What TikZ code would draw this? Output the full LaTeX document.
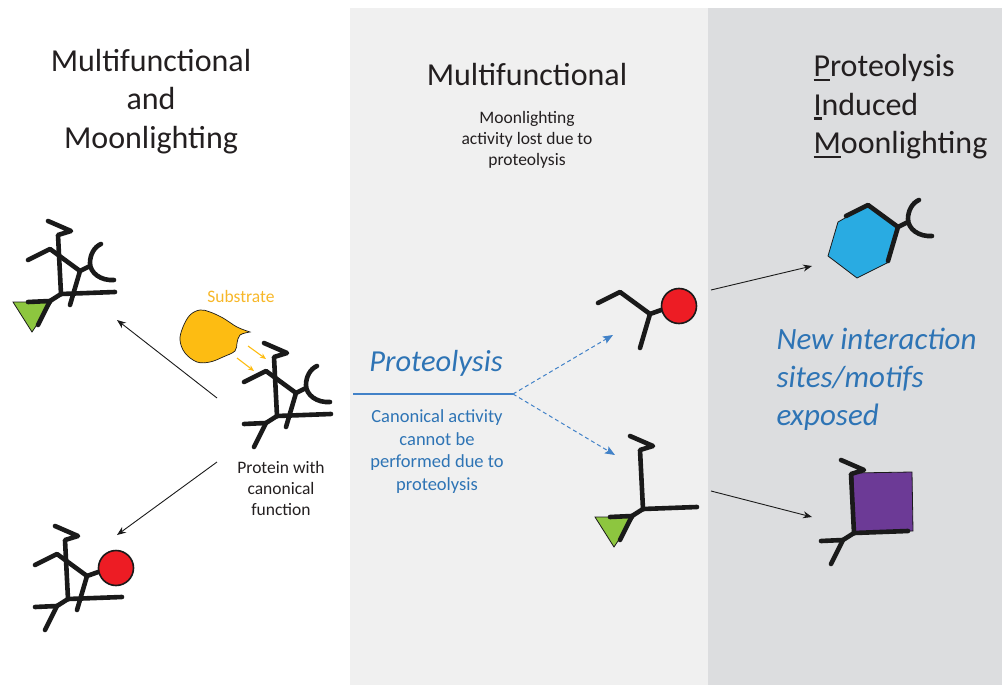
\documentclass[tikz,border=0pt]{standalone}
\usepackage{fontspec}
\setmainfont{Carlito}
\usetikzlibrary{arrows.meta}

\definecolor{midgrey}{RGB}{240,240,240}
\definecolor{rightgrey}{RGB}{220,221,223}
\definecolor{ink}{RGB}{35,31,32}
\definecolor{stick}{RGB}{26,26,26}
\definecolor{cutblue}{RGB}{46,116,181}
\definecolor{lineblue}{RGB}{66,130,200}
\definecolor{substr}{RGB}{253,188,18}
\definecolor{substrtext}{RGB}{247,183,40}
\definecolor{ballred}{RGB}{237,28,36}
\definecolor{wedgegreen}{RGB}{141,198,63}
\definecolor{hexblue}{RGB}{41,171,226}
\definecolor{boxpurple}{RGB}{108,58,150}

% thick bar under the first letter
\newcommand{\ulfirst}[1]{\setbox0\hbox{#1}\rlap{\rule[-4.5pt]{\wd0}{2.6pt}}#1}

\tikzset{
  bone/.style={draw=stick, line width=4.6pt, line cap=round, line join=round},
  thinarrow/.style={draw=stick, line width=0.9pt, -{Stealth[length=9pt,width=7pt,inset=3pt]}},
  cutarrow/.style={draw=lineblue, line width=1pt, dash pattern=on 4pt off 3pt,
    -{Stealth[length=10pt,width=8pt,inset=2pt]}},
  title/.style={text=ink, font=\fontsize{32}{38.5}\selectfont},
  note/.style={text=ink, font=\fontsize{17.5}{21.3}\selectfont, align=center},
  % pieces of the protein, all relative to the lower junction
  pics/hook/.style={code={\draw[bone] (-13,-73) -- (10,-63) -- (-3,-59) -- (0,0);}},
  pics/arm/.style={code={\draw[bone] (-33,-34) -- (-11,-45) -- (19,-23) -- (9,11);}},
  pics/bar/.style={code={\draw[bone] (0,0) -- (54,-2);}},
  pics/cup/.style={code={\draw[bone] (19,-23) -- (29,-28);
      \draw[bone] (40,-50) .. controls (33,-47) and (29,-39) .. (29,-31)
        .. controls (29,-21) and (40,-13) .. (53,-14);}},
  pics/fork/.style={code={\draw[bone] (0,0) -- (-11,7) -- (-23,31);
      \draw[bone] (-33,8) -- (-11,7);}},
  pics/ball/.style={code={\draw[bone] (19,-23) -- (33,-28);
      \filldraw[fill=ballred, draw=stick, line width=1.6pt] (48,-31) circle[radius=17.5pt];}},
  pics/wedge/.style={code={\filldraw[fill=wedgegreen, draw=stick, line width=0.8pt]
      (-48,8) -- (-9,8) -- (-29,38) -- cycle;}},
  pics/hexa/.style={code={\filldraw[fill=hexblue, draw=stick, line width=0.8pt]
      (-11,-45) -- (19,-23) -- (10,12) -- (-22,28) -- (-51,6) -- (-41,-28) -- cycle;}},
  pics/block/.style={code={\filldraw[fill=boxpurple, draw=stick, line width=0.8pt]
      (-1,-60) -- (58,-61) -- (59,-2) -- (0,0) -- cycle;}},
}

\begin{document}
\begin{tikzpicture}[x=1pt,y=-1pt]
\useasboundingbox (0,0) rectangle (1002,685);

% background panels
\fill[midgrey] (350,8) rectangle (708,685);
\fill[rightgrey] (708,8) rectangle (1002,685);

% junctions of the molecules
\coordinate (full) at (277,416);
\coordinate (cupTri) at (61,294);
\coordinate (cupBall) at (68,599);
\coordinate (fragBall) at (631,337);
\coordinate (fragTri) at (643,509);
\coordinate (hexFrag) at (879,250);
\coordinate (boxFrag) at (854,533);

% connector ends
\coordinate (fullUp) at (217,398);
\coordinate (fullDown) at (217,462);
\coordinate (triIn) at (117,320);
\coordinate (ballIn) at (117,535);
\coordinate (cutL) at (353,394);
\coordinate (cutR) at (513,394);
\coordinate (ballIn2) at (613,335);
\coordinate (triIn2) at (615,455);
\coordinate (ballOut) at (711,290);
\coordinate (hexIn) at (812,266);
\coordinate (triOut) at (711,491);
\coordinate (boxIn) at (812,517);
\coordinate (sA) at (248,346);
\coordinate (sA2) at (266,359);
\coordinate (sB) at (237,358);
\coordinate (sB2) at (254,371);

% connectors
\draw[thinarrow] (fullUp) -- (triIn);
\draw[thinarrow] (fullDown) -- (ballIn);
\draw[lineblue, line width=1.5pt] (cutL) -- (cutR);
\draw[cutarrow] (cutR) -- (ballIn2);
\draw[cutarrow] (cutR) -- (triIn2);
\draw[thinarrow] (ballOut) -- (hexIn);
\draw[thinarrow] (triOut) -- (boxIn);

% substrate
\filldraw[fill=substr, draw=stick, line width=0.7pt] plot[smooth, tension=0.6] coordinates {
  (250,332) (237,327) (223,318) (210,312) (200,310) (190,315) (183,327) (180,340)
  (185,353) (197,362) (210,362) (223,357) (235,351) (237,343) (240,335) (250,332)} -- cycle;
\draw[substr, line width=1.1pt, -{Stealth[length=6pt,width=5pt]}] (sA) -- (sA2);
\draw[substr, line width=1.1pt, -{Stealth[length=6pt,width=5pt]}] (sB) -- (sB2);

% molecules
\path (full) pic {hook} pic {arm} pic {bar} pic {cup} pic {fork};
\path (cupTri) pic {hook} pic {arm} pic {bar} pic {cup} pic {wedge} pic {fork};
\path (cupBall) pic {hook} pic {arm} pic {bar} pic {ball} pic {fork};
\path (fragBall) pic {arm} pic {ball};
\path (fragTri) pic {hook} pic {bar} pic {wedge} pic {fork};
\path (hexFrag) pic {hexa} pic {arm} pic {cup};
\path (boxFrag) pic {block} pic {hook} pic {bar} pic {fork};

% labels
\node[title, align=center] (head1) at (151,101.5) {Multifunctional\\and\\Moonlighting};
\node[title] (head2) at (527,75) {Multifunctional};
\node[note] (lost) at (527,140) {Moonlighting\\activity lost due to\\proteolysis};
\node[title, align=left, anchor=west] (head3) at (810,107)
  {\ulfirst{P}roteolysis\\\ulfirst{I}nduced\\\ulfirst{M}oonlighting};
\node[note, text=substrtext] (sub) at (241,296) {Substrate};
\node[note] (canon) at (281,488.5) {Protein with\\canonical\\function};
\node[text=cutblue, font=\fontsize{30.5}{37}\selectfont\itshape] (cut) at (436,363) {Proteolysis};
\node[text=cutblue, font=\fontsize{18.5}{22.7}\selectfont, align=center] (lostcan) at (437,451.5)
  {Canonical activity\\cannot be\\performed due to\\proteolysis};
\node[text=cutblue, font=\fontsize{31}{38}\selectfont\itshape, align=left, anchor=west] (newsite) at (773,379)
  {New interaction\\sites/motifs\\exposed};
\end{tikzpicture}
\end{document}
